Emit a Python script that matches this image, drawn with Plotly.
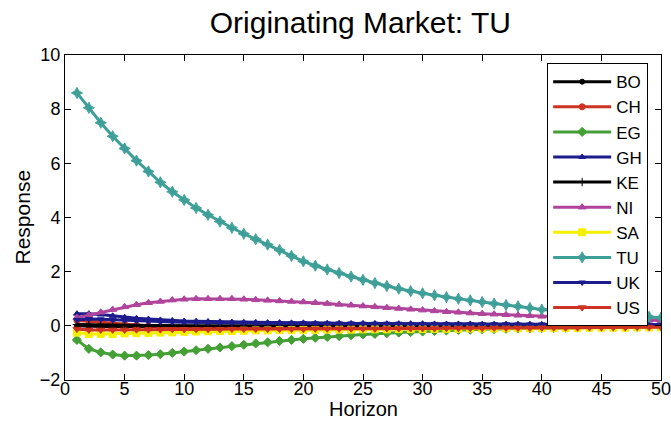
import plotly.graph_objects as go

horizon = list(range(1, 51))

BO = [0.0, -0.02, -0.02, -0.02, -0.02, -0.02, -0.02, -0.02, -0.02, -0.02,
      -0.02, -0.02, -0.02, -0.02, -0.02, -0.02, -0.02, -0.02, -0.02, -0.02,
      -0.02, -0.02, -0.02, -0.02, -0.02, -0.02, -0.02, -0.02, -0.02, -0.02,
      -0.02, -0.02, -0.02, -0.02, -0.02, -0.02, -0.02, -0.02, -0.02, -0.02,
      -0.02, -0.02, -0.02, -0.02, -0.02, -0.02, -0.02, -0.02, -0.02, -0.02]
CH = [0.2, 0.18, 0.14, 0.1, 0.06, 0.03, 0.0, -0.02, -0.04, -0.05,
      -0.06, -0.07, -0.08, -0.08, -0.09, -0.09, -0.09, -0.09, -0.09, -0.09,
      -0.09, -0.09, -0.09, -0.09, -0.09, -0.09, -0.08, -0.08, -0.08, -0.08,
      -0.08, -0.08, -0.07, -0.07, -0.07, -0.07, -0.07, -0.06, -0.06, -0.06,
      -0.06, -0.06, -0.05, -0.05, -0.05, -0.05, -0.05, -0.05, -0.04, -0.04]
EG = [-0.52, -0.85, -0.98, -1.06, -1.1, -1.1, -1.08, -1.05, -1.0, -0.95,
      -0.9, -0.85, -0.8, -0.75, -0.7, -0.65, -0.61, -0.56, -0.52, -0.48,
      -0.44, -0.41, -0.38, -0.35, -0.32, -0.3, -0.27, -0.25, -0.23, -0.21,
      -0.19, -0.17, -0.15, -0.14, -0.13, -0.12, -0.11, -0.1, -0.09, -0.08,
      -0.08, -0.07, -0.06, -0.06, -0.05, -0.05, -0.04, -0.04, -0.03, -0.03]
GH = [0.45, 0.45, 0.42, 0.37, 0.32, 0.28, 0.25, 0.22, 0.2, 0.18,
      0.17, 0.16, 0.15, 0.14, 0.13, 0.13, 0.12, 0.12, 0.11, 0.11,
      0.1, 0.1, 0.1, 0.09, 0.09, 0.09, 0.08, 0.08, 0.08, 0.08,
      0.07, 0.07, 0.07, 0.07, 0.06, 0.06, 0.06, 0.06, 0.06, 0.05,
      0.05, 0.05, 0.05, 0.05, 0.05, 0.04, 0.04, 0.04, 0.04, 0.04]
KE = [0.05, 0.04, 0.03, 0.02, 0.02, 0.01, 0.01, 0.01, 0.0, 0.0,
      0.0, 0.0, 0.0, 0.0, 0.0, 0.0, 0.0, 0.0, 0.0, 0.0,
      0.0, 0.0, 0.0, 0.0, 0.0, 0.0, 0.0, 0.0, 0.0, 0.0,
      0.0, 0.0, 0.0, 0.0, 0.0, 0.0, 0.0, 0.0, 0.0, 0.0,
      0.0, 0.0, 0.0, 0.0, 0.0, 0.0, 0.0, 0.0, 0.0, 0.0]
NI = [0.3, 0.4, 0.5, 0.6, 0.7, 0.78, 0.85, 0.9, 0.95, 0.98,
      1.0, 1.0, 1.0, 1.0, 0.98, 0.96, 0.94, 0.92, 0.9, 0.88,
      0.85, 0.82, 0.79, 0.76, 0.73, 0.7, 0.67, 0.64, 0.61, 0.58,
      0.55, 0.52, 0.5, 0.47, 0.45, 0.43, 0.41, 0.39, 0.37, 0.35,
      0.33, 0.31, 0.29, 0.28, 0.26, 0.25, 0.23, 0.22, 0.21, 0.2]
SA = [-0.25, -0.3, -0.3, -0.3, -0.28, -0.27, -0.26, -0.25, -0.24, -0.22,
      -0.21, -0.2, -0.19, -0.19, -0.18, -0.17, -0.17, -0.16, -0.16, -0.15,
      -0.15, -0.14, -0.14, -0.14, -0.13, -0.13, -0.13, -0.12, -0.12, -0.12,
      -0.11, -0.11, -0.11, -0.1, -0.1, -0.1, -0.09, -0.09, -0.09, -0.08,
      -0.08, -0.08, -0.08, -0.07, -0.07, -0.07, -0.07, -0.06, -0.06, -0.06]
TU = [8.6, 8.05, 7.5, 7.0, 6.55, 6.1, 5.7, 5.3, 4.95, 4.65,
      4.35, 4.1, 3.85, 3.62, 3.4, 3.2, 3.0, 2.8, 2.58, 2.38,
      2.22, 2.08, 1.95, 1.82, 1.7, 1.58, 1.47, 1.37, 1.28, 1.2,
      1.13, 1.06, 1.0, 0.94, 0.88, 0.82, 0.77, 0.72, 0.66, 0.6,
      0.57, 0.53, 0.5, 0.47, 0.44, 0.41, 0.38, 0.35, 0.33, 0.3]
UK = [0.22, 0.25, 0.24, 0.22, 0.2, 0.18, 0.16, 0.15, 0.14, 0.13,
      0.12, 0.12, 0.11, 0.11, 0.11, 0.1, 0.1, 0.1, 0.1, 0.1,
      0.09, 0.09, 0.09, 0.09, 0.08, 0.08, 0.08, 0.08, 0.07, 0.07,
      0.07, 0.07, 0.06, 0.06, 0.06, 0.06, 0.06, 0.05, 0.05, 0.05,
      0.05, 0.05, 0.05, 0.04, 0.04, 0.04, 0.04, 0.04, 0.04, 0.04]
US = [-0.12, -0.15, -0.15, -0.15, -0.15, -0.14, -0.14, -0.14, -0.13, -0.13,
      -0.13, -0.13, -0.13, -0.12, -0.12, -0.12, -0.12, -0.12, -0.12, -0.12,
      -0.11, -0.11, -0.11, -0.11, -0.11, -0.11, -0.1, -0.1, -0.1, -0.1,
      -0.1, -0.09, -0.09, -0.09, -0.09, -0.08, -0.08, -0.08, -0.08, -0.07,
      -0.07, -0.07, -0.07, -0.06, -0.06, -0.06, -0.06, -0.05, -0.05, -0.05]

series = [
    ("BO", BO, "#000000", "circle", 5),
    ("CH", CH, "#cc3322", "circle", 6),
    ("EG", EG, "#44a034", "diamond", 7),
    ("GH", GH, "#1c1c8c", "triangle-up", 6),
    ("KE", KE, "#000000", "cross-thin", 6),
    ("NI", NI, "#b0449c", "triangle-up", 7),
    ("SA", SA, "#f5f000", "square", 7),
    ("TU", TU, "#3d9f98", "star-diamond", 8),
    ("UK", UK, "#1c1c8c", "triangle-down", 6),
    ("US", US, "#cc3322", "triangle-down", 7),
]

fig = go.Figure()
for name, vals, color, sym, size in series:
    fig.add_trace(go.Scatter(
        x=horizon, y=vals, name=name, mode="lines+markers",
        line=dict(color=color, width=3),
        marker=dict(color=color, symbol=sym, size=size,
                    line=dict(color=color, width=1)),
    ))

axis_common = dict(
    showgrid=False, zeroline=False, showline=True, linecolor="#000000",
    linewidth=1, mirror="allticks", ticks="inside", ticklen=6,
    tickcolor="#000000", tickfont=dict(size=18, color="#000000"),
    automargin=False, ticklabeloverflow="allow",
)
fig.update_xaxes(range=[0, 50], dtick=5, tick0=0, ticklabelstandoff=-8,
                 **axis_common)
fig.update_yaxes(range=[-2, 10], dtick=2, tick0=-2, **axis_common)

fig.update_layout(
    width=671, height=434,
    margin=dict(l=65, r=10, t=55, b=54),
    paper_bgcolor="#ffffff", plot_bgcolor="#ffffff",
    font=dict(family="Liberation Sans, Arial, sans-serif", color="#000000"),
    title=dict(text="Originating Market: TU", x=0.537, xanchor="center",
               y=0.949, yanchor="middle", font=dict(size=30, color="#000000")),
    legend=dict(x=0.809, y=0.975, xanchor="left", yanchor="top",
                bgcolor="#ffffff", bordercolor="#000000", borderwidth=1,
                font=dict(size=17, color="#000000"), tracegroupgap=0,
                itemwidth=58),
    showlegend=True,
    annotations=[
        dict(text="Horizon", xref="paper", yref="paper", x=0.5, y=0,
             xanchor="center", yanchor="middle", yshift=-29, showarrow=False,
             font=dict(size=20, color="#000000")),
        dict(text="Response", xref="paper", yref="paper", x=0, y=0.5,
             xanchor="center", yanchor="middle", xshift=-43, textangle=-90,
             showarrow=False, font=dict(size=21, color="#000000")),
    ],
)

fig.write_html("out.html", config={"displayModeBar": False},
               post_script="document.body.style.margin='0';")
